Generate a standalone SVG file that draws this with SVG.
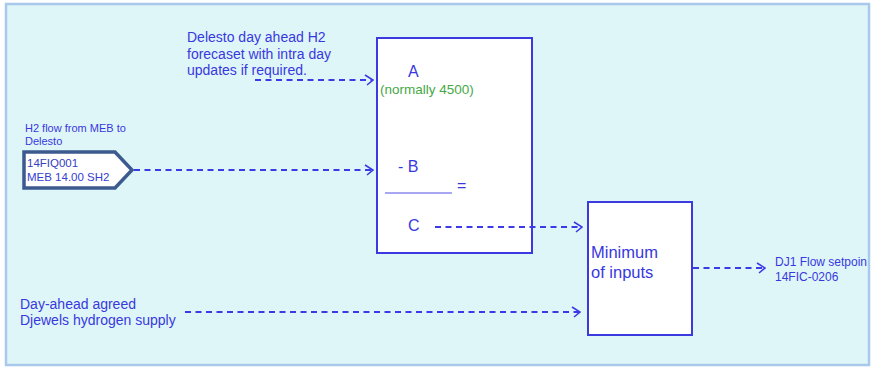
<svg xmlns="http://www.w3.org/2000/svg" width="874" height="369" viewBox="0 0 874 369">
  <style>
    text { font-family: "Liberation Sans", Arial, sans-serif; fill: #3838e0; }
    .box { fill: #ffffff; stroke: #3a3ae0; stroke-width: 2; }
    .flow { fill: none; stroke: #3a3ae6; stroke-width: 2; stroke-dasharray: 6 4.5; marker-end: url(#chevron); }
    .t14 { font-size: 14px; }
    .t16 { font-size: 16px; }
    .small { font-size: 11px; }
    .note { font-size: 13.5px; fill: #45a845; }
  </style>
  <defs>
    <marker id="chevron" viewBox="0 0 10 12" refX="9" refY="6" markerWidth="10" markerHeight="12" markerUnits="userSpaceOnUse" orient="auto">
      <path d="M1,1 L9,6 L3,11" fill="none" stroke="#3a3ae6" stroke-width="1.6"/>
    </marker>
  </defs>

  <!-- canvas frame -->
  <rect x="0" y="0" width="874" height="369" fill="#ffffff"/>
  <rect x="6" y="4" width="863" height="361" fill="#dff6f8" stroke="#a8c8ec" stroke-width="2.5"/>

  <!-- forecast input label -->
  <g id="forecast">
    <text class="t14" x="187" y="42">Delesto day ahead H2</text>
    <text class="t14" x="187" y="58.5">forecaset with intra day</text>
    <text class="t14" x="187" y="75">updates if required.</text>
  </g>

  <!-- measured flow tag -->
  <g id="flow-tag">
    <text class="small" x="25" y="132">H2 flow from MEB to</text>
    <text class="small" x="25" y="145">Delesto</text>
    <polygon points="24,152 115,152 132,170 115,188 24,188" fill="#ffffff" stroke="#3d5a8e" stroke-width="3.5" stroke-linejoin="miter"/>
    <text x="27" y="167" style="font-size:11.5px; fill:#3440c0">14FIQ001</text>
    <text x="27" y="181" style="font-size:11.5px; fill:#3440d0">MEB 14.00 SH2</text>
  </g>

  <!-- subtraction block -->
  <g id="calc">
    <rect class="box" x="377" y="38" width="155" height="215"/>
    <text class="t16" x="408" y="77">A</text>
    <text class="note" x="380" y="94">(normally 4500)</text>
    <text class="t16" x="398" y="172">- B</text>
    <line x1="385" y1="193" x2="452" y2="193" stroke="#8a8af0" stroke-width="1.5"/>
    <text class="t16" x="457" y="191">=</text>
    <text class="t16" x="408" y="231">C</text>
  </g>

  <!-- minimum selector -->
  <g id="minimum">
    <rect class="box" x="588" y="202" width="104" height="133"/>
    <text x="591" y="258" style="font-size:16.5px">Minimum</text>
    <text x="591" y="278" style="font-size:16.5px">of inputs</text>
  </g>

  <!-- setpoint output -->
  <g id="setpoint">
    <text x="775" y="266" style="font-size:12px">DJ1 Flow setpoin</text>
    <text x="775" y="281" style="font-size:12px">14FIC-0206</text>
  </g>

  <!-- agreed supply input -->
  <g id="supply">
    <text class="t14" x="20" y="309">Day-ahead agreed</text>
    <text class="t14" x="20" y="325">Djewels hydrogen supply</text>
  </g>

  <!-- connectors, drawn last so the C output runs over the block edge -->
  <g id="connectors">
    <line class="flow" x1="255" y1="80" x2="373" y2="80"/>
    <line class="flow" x1="134" y1="170" x2="373" y2="170"/>
    <line class="flow" x1="435" y1="227" x2="582" y2="227"/>
    <line class="flow" x1="185" y1="312" x2="580" y2="312"/>
    <line class="flow" x1="693" y1="268" x2="765" y2="268"/>
  </g>
</svg>
